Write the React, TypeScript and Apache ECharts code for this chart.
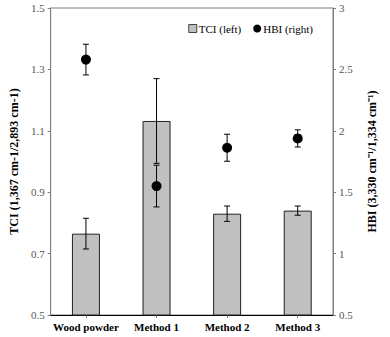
import React, { useEffect, useRef } from "react";
import * as echarts from "echarts";

const categories = ["Wood powder", "Method 1", "Method 2", "Method 3"];
const tciValues = [0.765, 1.132, 0.83, 0.84];
const tciErrors = [0.05, 0.138, 0.025, 0.015];
const hbiValues = [2.58, 1.55, 1.862, 1.938];
const hbiErrors = [0.125, 0.17, 0.11, 0.07];
const leftTicks = { min: 0.5, max: 1.5, interval: 0.2 };
const rightTicks = { min: 0.5, max: 3, interval: 0.5 };

const FONT = "'Liberation Serif', 'Times New Roman', Times, serif";
const AXIS_COLOR = "#7f7f7f";

function errorSeries(values: number[], errors: number[], yAxisIndex: number, name: string) {
  return {
    type: "custom",
    name,
    yAxisIndex,
    silent: true,
    z: 10,
    data: values.map((v, i) => [i, v - errors[i], v + errors[i]]),
    renderItem: (params: any, api: any) => {
      const x = api.value(0);
      const lo = api.coord([x, api.value(1)]);
      const hi = api.coord([x, api.value(2)]);
      const w = 3;
      const style = { stroke: "#000", lineWidth: 1 };
      return {
        type: "group",
        children: [
          { type: "line", shape: { x1: hi[0], y1: hi[1], x2: lo[0], y2: lo[1] }, style },
          { type: "line", shape: { x1: hi[0] - w, y1: hi[1], x2: hi[0] + w, y2: hi[1] }, style },
          { type: "line", shape: { x1: lo[0] - w, y1: lo[1], x2: lo[0] + w, y2: lo[1] }, style },
        ],
      };
    },
  };
}

export default function App() {
  const ref = useRef<HTMLDivElement>(null);
  useEffect(() => {
    if (!ref.current) return;
    const chart = echarts.init(ref.current, null, { renderer: "svg" });
    const yAxisCommon = {
      type: "value",
      splitLine: { show: false },
      axisLine: { show: true, lineStyle: { color: AXIS_COLOR, width: 1 } },
      axisTick: { show: true, length: 3, lineStyle: { color: AXIS_COLOR } },
      axisLabel: { color: "#555", fontFamily: FONT, fontSize: 11, margin: 6 },
      nameLocation: "middle",
      nameTextStyle: { color: "#000", fontFamily: FONT, fontSize: 12, fontWeight: "bold" },
    };
    chart.setOption({
      animation: false,
      textStyle: { fontFamily: FONT },
      grid: { left: 50, right: 57, top: 8, bottom: 22, show: true, borderColor: AXIS_COLOR, borderWidth: 1 },
      legend: {
        right: 72,
        top: 18,
        itemWidth: 8,
        itemHeight: 8,
        itemGap: 12,
        textStyle: { fontFamily: FONT, fontSize: 11, color: "#000", padding: [0, 0, 0, -3] },
        data: [
          { name: "TCI (left)", icon: "rect", itemStyle: { color: "#c0c0c0", borderColor: "#444", borderWidth: 1 } },
          { name: "HBI (right)", icon: "circle", itemStyle: { color: "#000", opacity: 1 } },
        ],
      },
      xAxis: {
        type: "category",
        data: categories,
        axisLine: { lineStyle: { color: "#000", width: 1 } },
        axisTick: { show: true, alignWithLabel: true, length: 3, lineStyle: { color: AXIS_COLOR } },
        axisLabel: { interval: 0, color: "#000", fontFamily: FONT, fontSize: 11, fontWeight: "bold", margin: 6 },
      },
      yAxis: [
        {
          ...yAxisCommon,
          position: "left",
          min: leftTicks.min,
          max: leftTicks.max,
          interval: leftTicks.interval,
          name: "TCI (1,367 cm-1/2,893 cm-1)",
          nameGap: 29,
          axisLabel: { ...yAxisCommon.axisLabel, formatter: (v: number) => v.toFixed(1) },
        },
        {
          ...yAxisCommon,
          position: "right",
          min: rightTicks.min,
          max: rightTicks.max,
          interval: rightTicks.interval,
          name: "HBI (3,330 cm\u207B\u00B9/1,334 cm\u207B\u00B9)",
          nameGap: 33,
          nameRotate: 90,
          axisLabel: { ...yAxisCommon.axisLabel, formatter: (v: number) => String(v) },
        },
      ],
      series: [
        {
          type: "bar",
          name: "TCI (left)",
          yAxisIndex: 0,
          data: tciValues,
          barWidth: 28,
          itemStyle: { color: "#c0c0c0", borderColor: "#222", borderWidth: 1 },
        },
        errorSeries(tciValues, tciErrors, 0, "TCI err"),
        {
          type: "scatter",
          name: "HBI (right)",
          yAxisIndex: 1,
          data: hbiValues,
          symbol: "circle",
          symbolSize: 10,
          z: 20,
          itemStyle: { color: "#000", opacity: 1 },
        },
        errorSeries(hbiValues, hbiErrors, 1, "HBI err"),
      ],
    });
    return () => chart.dispose();
  }, []);
  return <div ref={ref} style={{ position: "absolute", left: 0, top: 0, width: 390, height: 337 }} />;
}
